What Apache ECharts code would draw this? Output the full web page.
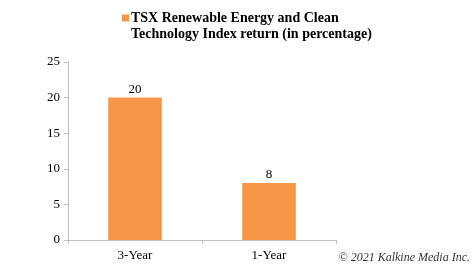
<!DOCTYPE html>
<html>
<head>
<meta charset="utf-8">
<script src="https://cdn.jsdelivr.net/npm/echarts@6/dist/echarts.min.js"></script>
<style>
  html, body { margin: 0; padding: 0; background: #fff; }
  #bar { width: 474px; height: 269px; }
</style>
</head>
<body>
<div id="bar"></div>
<script>
// data
var categories = ["3-Year", "1-Year"];
var returns = [20, 8];
var seriesName = "TSX Renewable Energy and Clean\nTechnology Index return (in percentage)";
var yTicks = { min: 0, max: 25, interval: 5 };

var myChart = echarts.init(document.getElementById("bar"));
var serif = "'Liberation Serif', 'Times New Roman', serif";

var option = {
  animation: false,
  legend: {
    left: 122,
    top: 10,
    padding: 0,
    // square sits at the top of a taller box so it lines up with the first text line
    icon: "path://M0,0L7,0L7,7L0,7ZM0,23L0,23",
    itemWidth: 7,
    itemHeight: 23,
    itemGap: 3,
    data: [seriesName],
    textStyle: {
      fontFamily: serif,
      fontWeight: "bold",
      fontSize: 14,
      color: "#000",
      lineHeight: 16,
      padding: [0, 0, 0, -3],
    },
  },
  grid: {
    left: 68,
    right: 138,
    top: 62,
    bottom: 29,
  },
  xAxis: {
    type: "category",
    data: categories,
    axisLine: { lineStyle: { color: "#bfbfbf" } },
    axisTick: { show: true, length: 4, lineStyle: { color: "#bfbfbf" } },
    axisLabel: {
      fontFamily: serif,
      fontSize: 13,
      color: "#000",
      margin: 9,
    },
  },
  yAxis: {
    type: "value",
    min: yTicks.min,
    max: yTicks.max,
    interval: yTicks.interval,
    axisLine: { show: true, lineStyle: { color: "#bfbfbf" } },
    axisTick: { show: true, length: 4, lineStyle: { color: "#bfbfbf" } },
    splitLine: { show: false },
    axisLabel: {
      fontFamily: serif,
      fontSize: 13,
      color: "#000",
      margin: 8,
    },
  },
  series: [
    {
      name: seriesName,
      type: "bar",
      data: returns,
      barWidth: "40%",
      itemStyle: { color: "#f79646" },
      label: {
        show: true,
        position: "top",
        fontFamily: serif,
        fontSize: 13,
        color: "#000",
        distance: 2,
      },
    },
  ],
  graphic: [
    {
      type: "text",
      right: 4,
      bottom: 5,
      style: {
        text: "\u00a9 2021 Kalkine Media Inc.",
        font: "italic 12px " + serif,
        fill: "#333",
      },
    },
  ],
};
myChart.setOption(option);
</script>
</body>
</html>
